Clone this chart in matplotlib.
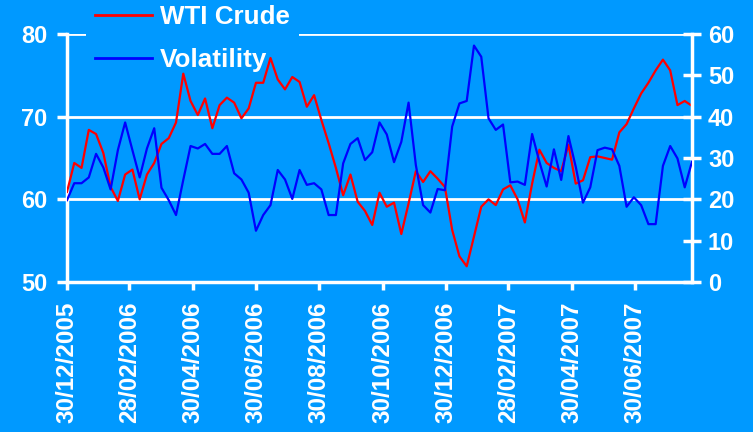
import matplotlib
matplotlib.use("Agg")
import matplotlib.pyplot as plt
import pandas as pd

# Weekly observations (Fridays) starting 30/12/2005
start_date = "2005-12-30"
n_weeks = 87
dates = pd.date_range(start_date, periods=n_weeks, freq="7D")

wti_crude = [
    60.9, 64.4, 63.8, 68.4, 67.9, 65.6, 61.5, 59.8, 63.0, 63.6,
    60.0, 63.0, 64.4, 66.7, 67.4, 69.3, 75.2, 71.9, 70.2, 72.2,
    68.6, 71.4, 72.3, 71.7, 69.8, 71.0, 74.1, 74.1, 77.1, 74.5,
    73.3, 74.8, 74.2, 71.2, 72.6, 69.6, 66.8, 63.8, 60.5, 63.0,
    59.7, 58.6, 56.9, 60.8, 59.1, 59.6, 55.8, 59.5, 63.4, 62.1,
    63.4, 62.5, 61.5, 56.3, 53.1, 51.9, 55.5, 59.1, 60.0, 59.3,
    61.2, 61.7, 60.0, 57.2, 61.9, 66.0, 64.4, 63.8, 63.4, 66.6,
    61.9, 62.3, 65.1, 65.2, 65.0, 64.8, 68.1, 69.1, 71.0, 72.8,
    74.1, 75.6, 76.9, 75.6, 71.4, 71.9, 71.3,
]

volatility = [
    19.8, 23.9, 23.9, 25.3, 31.0, 27.7, 22.4, 31.9, 38.6, 31.9,
    25.3, 32.3, 37.2, 22.8, 19.8, 16.2, 24.7, 32.9, 32.3, 33.4,
    31.0, 31.0, 32.9, 26.3, 24.8, 21.6, 12.4, 16.2, 18.6, 27.1,
    24.8, 20.1, 27.1, 23.5, 23.9, 22.4, 16.2, 16.2, 28.7, 33.4,
    34.8, 29.5, 31.4, 38.6, 35.7, 29.0, 33.9, 43.4, 28.3, 18.6,
    16.8, 22.5, 22.2, 37.6, 43.2, 43.8, 57.2, 54.5, 39.6, 36.8,
    38.1, 24.1, 24.3, 23.5, 35.8, 29.1, 23.1, 32.1, 24.7, 35.3,
    27.9, 19.2, 22.9, 31.9, 32.5, 32.1, 28.1, 18.2, 20.5, 18.6,
    14.0, 14.0, 28.1, 32.9, 29.9, 22.9, 29.1,
]

tick_dates = [
    "2005-12-30", "2006-02-28", "2006-04-30", "2006-06-30", "2006-08-30",
    "2006-10-30", "2006-12-30", "2007-02-28", "2007-04-30", "2007-06-30",
]
left_ticks = [50, 60, 70, 80]
right_ticks = [0, 10, 20, 30, 40, 50, 60]

BG = "#0099FF"
plt.rcParams["font.family"] = ["Liberation Sans", "DejaVu Sans"]
plt.rcParams["font.weight"] = "bold"

W, H = 753, 432
fig = plt.figure(figsize=(W / 100, H / 100), dpi=100, facecolor=BG)
ax = fig.add_axes([67 / W, 1 - 282 / H, (692 - 67) / W, (282 - 34) / H])
ax.set_facecolor(BG)
ax2 = ax.twinx()

l1, = ax.plot(dates, wti_crude, color="#FF0000", lw=1.6, label="WTI Crude",
              zorder=3)
l2, = ax2.plot(dates, volatility, color="#0000FF", lw=1.6, label="Volatility",
               zorder=3)

ax.set_xlim(dates[0], dates[-1])
ax.set_ylim(50, 80)
ax2.set_ylim(0, 60)
ax.set_yticks(left_ticks)
ax2.set_yticks(right_ticks)

tks = pd.to_datetime(tick_dates)
ax.set_xticks(tks)
ax.set_xticklabels([d.strftime("%d/%m/%Y") for d in tks], rotation=90)

ax.yaxis.grid(True, color="white", lw=2, zorder=0.5)
ax.set_axisbelow(True)

for s in ["top", "right"]:
    ax.spines[s].set_visible(False)
for s in ["top", "left", "bottom"]:
    ax2.spines[s].set_visible(False)
ax.spines["left"].set_color("white")
ax.spines["left"].set_linewidth(2.5)
ax.spines["bottom"].set_color("white")
ax.spines["bottom"].set_linewidth(2.5)
ax2.spines["right"].set_color("white")
ax2.spines["right"].set_linewidth(2.5)

ax.tick_params(axis="y", direction="out", length=7, width=2.5, color="white",
               labelcolor="white", labelsize=17, pad=7)
ax.tick_params(axis="x", direction="out", length=6, width=2.5, color="white",
               labelcolor="white", labelsize=17.5, pad=8)
ax2.tick_params(axis="y", direction="inout", length=13, width=2.5, color="white",
                labelcolor="white", labelsize=17, pad=5)
for lab in ax.get_xticklabels() + ax.get_yticklabels() + ax2.get_yticklabels():
    lab.set_fontweight("bold")

leg = ax.legend([l1, l2], ["WTI Crude", "Volatility"],
                loc="upper left", bbox_to_anchor=(86 / W, 1 + 4 / H),
                bbox_transform=fig.transFigure,
                frameon=True, facecolor=BG, edgecolor="none", framealpha=1,
                fancybox=False, fontsize=18.7, handlelength=2.2,
                handletextpad=0.3, labelspacing=0.72, borderpad=0.35,
                borderaxespad=0)
leg.set_zorder(1.5)
for t in leg.get_texts():
    t.set_color("white")
    t.set_fontweight("bold")
for h in leg.get_lines():
    h.set_linewidth(2)

fig.savefig("out.png", dpi=100, facecolor=BG)
